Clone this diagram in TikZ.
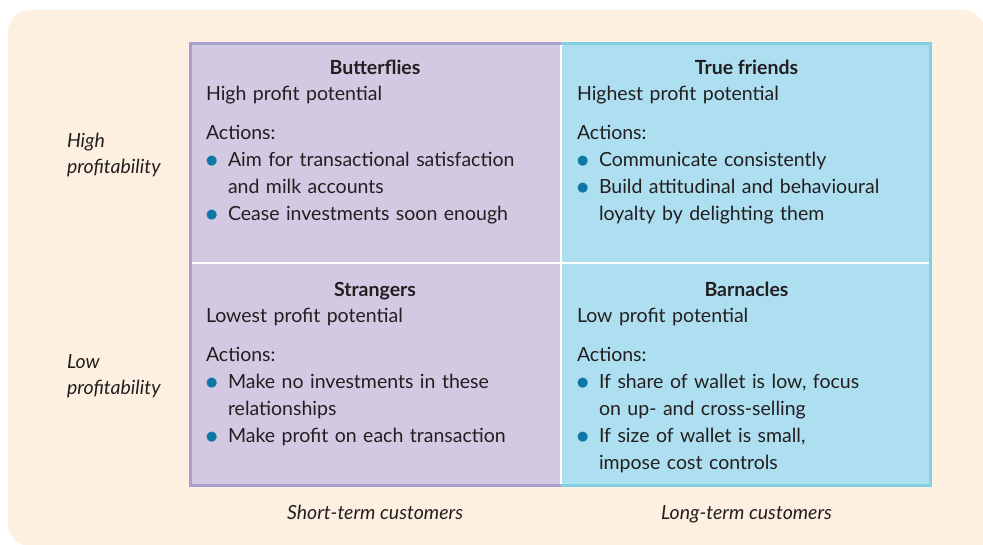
\documentclass[tikz,border=0pt]{standalone}
\usepackage{fontspec}
\setmainfont{Lato}
\newfontfamily\dejavu{DejaVu Sans}
\definecolor{cream}{HTML}{FDF0E1}
\definecolor{pfill}{HTML}{D3C9E2}
\definecolor{pline}{HTML}{A99FCC}
\definecolor{cfill}{HTML}{ADDFF0}
\definecolor{cline}{HTML}{7FD1E3}
\definecolor{bulblue}{HTML}{0E77A5}
\definecolor{ink}{HTML}{231F20}
\newcommand{\bul}{\raisebox{2pt}{\textcolor{bulblue}{\dejavu\fontsize{13}{13}\selectfont ●}}}
\newcommand{\bitem}[1]{\par\hangindent=22pt\hangafter=1\noindent\makebox[22pt][l]{\bul}#1\par}
\newcommand{\nl}{\hfil\break}
\newcommand{\actgap}{\par\vspace{12pt}\noindent}
\begin{document}
\begin{tikzpicture}[x=1pt,y=-1pt,
  every node/.style={inner sep=0pt,outer sep=0pt,text=ink},
  body/.style={font=\fontsize{19.5}{27}\selectfont, text width=340pt, anchor=north west},
  ttl/.style={font=\fontsize{19.5}{27}\selectfont\bfseries, anchor=base},
  side/.style={font=\fontsize{19.5}{26}\selectfont\itshape, align=left, anchor=north west},
  axis/.style={font=\fontsize{19.5}{26}\selectfont\itshape, anchor=base}]
\useasboundingbox (0,0) rectangle (983,544);
% background
\fill[cream, rounded corners=22pt] (8,10) rectangle (985,546);
\fill[cream] (900,450) rectangle (985,546);
% quadrants
\fill[pfill] (189,42) rectangle (561,487);
\fill[cfill] (561,42) rectangle (932,487);
\draw[pline, line width=3pt] (561,43.5) -- (190.5,43.5) -- (190.5,485.5) -- (561,485.5);
\draw[cline, line width=3pt] (561,43.5) -- (930.5,43.5) -- (930.5,485.5) -- (561,485.5);
\draw[white, line width=2.5pt] (561,45) -- (561,484);
\draw[white, line width=2.5pt] (192,263) -- (929,263);
% titles
\node[ttl] (t1) at (375,74) {Butterflies};
\node[ttl] (t2) at (746.5,74) {True friends};
\node[ttl] (t3) at (375,296) {Strangers};
\node[ttl] (t4) at (746.5,296) {Barnacles};
% bodies
\node[body] (b1) at (206,86) {\raggedright\noindent High profit potential\actgap Actions:
 \bitem{Aim for transactional satisfaction\nl and milk accounts}
 \bitem{Cease investments soon enough}};
\node[body] (b2) at (577,86) {\raggedright\noindent Highest profit potential\actgap Actions:
 \bitem{Communicate consistently}
 \bitem{Build attitudinal and behavioural\nl loyalty by delighting them}};
\node[body] (b3) at (206,308) {\raggedright\noindent Lowest profit potential\actgap Actions:
 \bitem{Make no investments in these\nl relationships}
 \bitem{Make profit on each transaction}};
\node[body] (b4) at (577,308) {\raggedright\noindent Low profit potential\actgap Actions:
 \bitem{If share of wallet is low, focus\nl on up- and cross-selling}
 \bitem{If size of wallet is small,\nl impose cost controls}};
% side labels
\node[side] (s1) at (67,133) {High\\profitability};
\node[side] (s2) at (67,355) {Low\\profitability};
\node[axis] (a1) at (375,519) {Short-term customers};
\node[axis] (a2) at (746.5,519) {Long-term customers};
\end{tikzpicture}
\end{document}
